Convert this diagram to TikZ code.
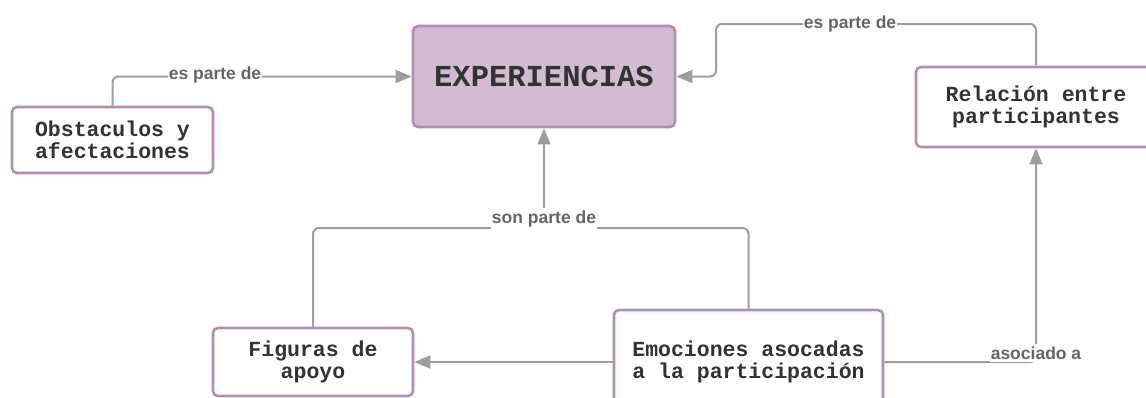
\documentclass[tikz,border=0pt]{standalone}
\usepackage{fontspec}
\setmainfont{Liberation Sans}
\newfontfamily\boxfont{Liberation Mono}
\usetikzlibrary{arrows.meta}
\definecolor{boxborder}{HTML}{B48DB4}
\definecolor{boxfill}{HTML}{D3BCD3}
\definecolor{boxtext}{HTML}{333333}
\definecolor{conncol}{HTML}{9E9E9E}
\definecolor{labcol}{HTML}{666666}
\tikzset{
  concept/.style={draw=boxborder, line width=2.6pt, rounded corners=5pt, fill=white,
    text=boxtext, align=center, inner sep=0pt,
    font=\boxfont\bfseries\fontsize{21.5}{22}\selectfont},
  conn/.style={draw=conncol, line width=2pt, rounded corners=6pt},
  arr/.style={-{Triangle[length=16pt,width=13pt]}},
  lab/.style={fill=white, text=labcol, inner xsep=1pt, inner ysep=3pt,
    font=\bfseries\fontsize{17.5}{18}\selectfont}
}
\begin{document}
\begin{tikzpicture}[x=1pt,y=-1pt]
\useasboundingbox (0,0) rectangle (1146,397);
\clip (0,0) rectangle (1146,397);
% nodes
\node[concept, fill=boxfill, minimum width=262pt, minimum height=101pt,
  font=\boxfont\bfseries\fontsize{30.5}{30}\selectfont] (exp) at (544,76.5) {EXPERIENCIAS};
\node[concept, minimum width=201pt, minimum height=66pt] (obs) at (112.5,140) {Obstaculos y\\afectaciones};
\node[concept, minimum width=240pt, minimum height=80pt] (rel) at (1036,107) {Relación entre\\participantes};
\node[concept, minimum width=200pt, minimum height=68pt] (fig) at (313,362) {Figuras de\\apoyo};
\node[concept, minimum width=269pt, minimum height=104pt] (emo) at (748.5,362) {Emociones asocadas\\a la participación};
% coordinates
\coordinate (c1) at (716,24);
\coordinate (j1) at (544,228);
% connectors
\draw[conn, arr] (obs.north) |- (exp.west);
\draw[conn, arr] (rel.north) |- (c1) |- (exp.east);
\draw[conn] (emo.north) |- (j1) -| (fig.north);
\draw[conn, arr] (j1) -- (exp.south);
\draw[conn, arr] (emo.west) -- (fig.east);
\draw[conn, arr] (emo.east) -| (rel.south);
% labels
\node[lab] (l1) at (215,75) {es parte de};
\node[lab] (l2) at (850,24) {es parte de};
\node[lab] (l3) at (544,219) {son parte de};
\node[lab] (l4) at (1036,353) {asociado a};
\end{tikzpicture}
\end{document}
